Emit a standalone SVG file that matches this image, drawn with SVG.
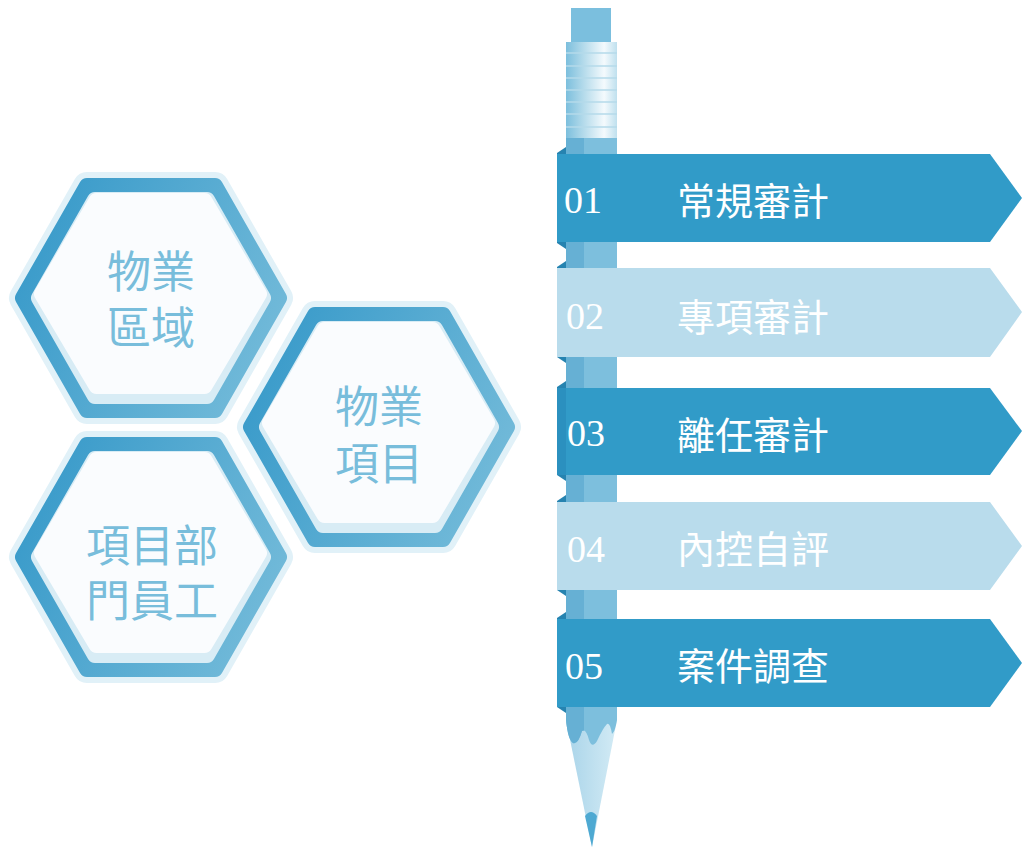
<svg xmlns="http://www.w3.org/2000/svg" width="1023" height="848" viewBox="0 0 1023 848">
  <style>
    .hex-text { font-family: "Noto Sans CJK TC", "Noto Sans CJK SC", sans-serif; font-size: 44px; fill: #78bddb; text-anchor: middle; }
    .num { font-family: "Liberation Serif", serif; font-size: 38px; fill: #ffffff; }
    .label { font-family: "Noto Sans CJK TC", "Noto Sans CJK SC", sans-serif; font-size: 38px; fill: #ffffff; }
    .dark { fill: #319bc8; }
    .light { fill: #b9dcec; }
    .fold { fill: #2683b0; }
    .band { stroke: #b4daea; stroke-width: 1.5; }
  </style>
  <defs>
    <linearGradient id="ringGrad" x1="0" y1="0.3" x2="1" y2="0.7">
      <stop offset="0" stop-color="#3a9bca"/>
      <stop offset="1" stop-color="#72bad9"/>
    </linearGradient>
    <linearGradient id="ferruleGrad" x1="0" y1="0" x2="1" y2="0">
      <stop offset="0" stop-color="#7cbfdd"/>
      <stop offset="0.35" stop-color="#b5dbeb"/>
      <stop offset="0.75" stop-color="#f4fafd"/>
      <stop offset="1" stop-color="#bfe0ee"/>
    </linearGradient>
    <linearGradient id="woodGrad" x1="0" y1="0" x2="1" y2="0">
      <stop offset="0" stop-color="#a9d4e9"/>
      <stop offset="1" stop-color="#d3ebf5"/>
    </linearGradient>
    <!-- hexagon outlines centred on 0,0; round stroke joins give the soft corners -->
    <polygon id="hexOuter" points="-128,0 -64,-112 64,-112 128,0 64,112 -64,112"/>
    <polygon id="hexInner" points="-112,0 -56,-98 56,-98 112,0 56,98 -56,98"/>
    <polygon id="hexTop" points="-109,-4 -54.5,-97 53.5,-97 108,-4 53.5,88 -54.5,88"/>
    <g id="hexTile">
      <use href="#hexOuter" fill="#e1f1f8" stroke="#e1f1f8" stroke-width="28" stroke-linejoin="round"/>
      <use href="#hexOuter" fill="url(#ringGrad)" stroke="url(#ringGrad)" stroke-width="16" stroke-linejoin="round"/>
      <use href="#hexInner" fill="#d8ecf5" stroke="#d8ecf5" stroke-width="16" stroke-linejoin="round"/>
      <use href="#hexTop" fill="#fafcfe" stroke="#fafcfe" stroke-width="16" stroke-linejoin="round"/>
    </g>
    <clipPath id="bodyClip">
      <path d="M566,138 H617 V720 Q615,732 612,734 Q610,722 607,724 Q603,728 597,741 Q592,749 589,740 Q586,728 582,731 Q578,745 573,743 Q568,740 566,720 Z"/>
    </clipPath>
  </defs>

  <!-- hexagon nodes -->
  <g id="hex-region" transform="translate(151,298)">
    <use href="#hexTile"/>
    <text class="hex-text"><tspan x="0" y="-10">物業</tspan><tspan x="0" y="46">區域</tspan></text>
  </g>
  <g id="hex-project" transform="translate(379,427)">
    <use href="#hexTile"/>
    <text class="hex-text"><tspan x="0" y="-4">物業</tspan><tspan x="0" y="53">項目</tspan></text>
  </g>
  <g id="hex-staff" transform="translate(151,557)">
    <use href="#hexTile"/>
    <text class="hex-text"><tspan x="1" y="5">項目部</tspan><tspan x="1" y="60">門員工</tspan></text>
  </g>

  <!-- pencil -->
  <g id="pencil">
    <rect x="571" y="8" width="40" height="35" fill="#7bbfde"/>
    <polygon points="566,720 617,720 592,847" fill="url(#woodGrad)"/>
    <path d="M585,816 Q591,808 597,816 L592,847 Z" fill="#4ea9d2"/>
    <g clip-path="url(#bodyClip)">
      <rect x="566" y="138" width="51" height="615" fill="#7dbfdd"/>
      <rect x="566" y="138" width="18" height="615" fill="#66b0d4"/>
    </g>
    <rect x="566" y="42" width="51" height="96" fill="url(#ferruleGrad)"/>
    <g class="band">
      <line x1="566" y1="53" x2="617" y2="53"/>
      <line x1="566" y1="66" x2="617" y2="66"/>
      <line x1="566" y1="78" x2="617" y2="78"/>
      <line x1="566" y1="90" x2="617" y2="90"/>
      <line x1="566" y1="102" x2="617" y2="102"/>
      <line x1="566" y1="114" x2="617" y2="114"/>
      <line x1="566" y1="127" x2="617" y2="127"/>
    </g>
  </g>

  <!-- ribbon steps wrapped round the pencil -->
  <g id="step-01">
    <polygon class="fold" points="557,153 566,147 566,249 557,243"/>
    <polygon class="dark" points="557,154 990,154 1022,198 990,242 557,242"/>
    <text class="num" x="564" y="213">01</text>
    <text class="label" x="677" y="215">常規審計</text>
  </g>
  <g id="step-02">
    <polygon class="fold" points="557,267 566,261 566,363 557,357"/>
    <polygon class="light" points="557,268 990,268 1022,312 990,357 557,357"/>
    <text class="num" x="566" y="329">02</text>
    <text class="label" x="677" y="331">專項審計</text>
  </g>
  <g id="step-03">
    <polygon class="fold" points="557,387 566,381 566,481 557,475"/>
    <polygon class="dark" points="557,388 990,388 1022,431 990,475 557,475"/>
    <rect x="557" y="388" width="9" height="87" fill="#2b90bf"/>
    <text class="num" x="567" y="446">03</text>
    <text class="label" x="677" y="449">離任審計</text>
  </g>
  <g id="step-04">
    <polygon class="fold" points="557,501 566,495 566,596 557,590"/>
    <polygon class="light" points="557,502 990,502 1022,546 990,590 557,590"/>
    <text class="num" x="567" y="562">04</text>
    <text class="label" x="677" y="563">內控自評</text>
  </g>
  <g id="step-05">
    <polygon class="fold" points="557,618 566,612 566,713 557,707"/>
    <polygon class="dark" points="557,619 990,619 1022,663 990,707 557,707"/>
    <text class="num" x="565" y="679">05</text>
    <text class="label" x="677" y="680">案件調查</text>
  </g>
</svg>
